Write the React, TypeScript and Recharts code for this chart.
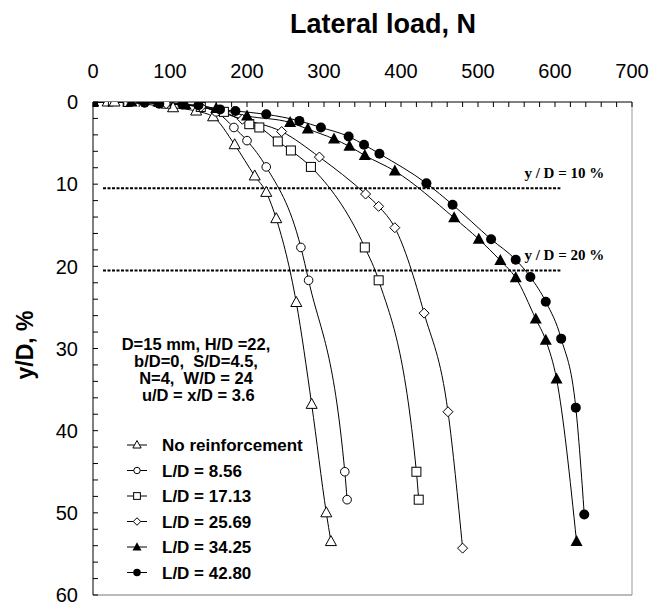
import React from 'react';
import { LineChart, Line, XAxis, YAxis, ReferenceLine } from 'recharts';

// lateral load (N) vs y/D (%)
const noReinfLoad = [0, 19, 28, 104, 134, 156, 184, 210, 225, 238, 264, 284, 303, 309];
const noReinfDepth = [0, 0, 0, 0.7, 1.1, 1.8, 5.2, 9.0, 11.0, 14.2, 24.4, 36.8, 50.0, 53.5];

const ld856Load = [0, 45, 95, 140, 160, 183, 200, 225, 270, 280, 327, 330];
const ld856Depth = [0, 0, 0.2, 0.6, 1.2, 3.1, 4.7, 7.9, 17.7, 21.7, 45.0, 48.4];

const ld1713Load = [0, 45, 95, 140, 170, 203, 216, 240, 257, 283, 353, 371, 420, 423];
const ld1713Depth = [0, 0, 0.2, 0.6, 1.2, 2.7, 3.1, 4.8, 5.9, 7.9, 17.7, 21.7, 45.0, 48.4];

const ld2569Load = [0, 50, 95, 140, 194, 245, 294, 354, 371, 392, 430, 461, 480];
const ld2569Depth = [0, 0, 0.2, 0.6, 2.1, 3.6, 6.7, 11.2, 12.7, 15.3, 25.7, 37.7, 54.3];

const ld3425Load = [0, 50, 85, 120, 160, 200, 256, 279, 313, 333, 353, 392, 469, 501, 529, 549, 575, 588, 602, 628];
const ld3425Depth = [0, 0, 0, 0.3, 0.8, 1.7, 2.5, 3.3, 4.5, 5.4, 6.5, 8.4, 14.1, 16.7, 19.3, 21.4, 26.4, 29.0, 33.7, 53.5];

const ld4280Load = [0, 67, 86, 116, 137, 165, 185, 225, 268, 296, 332, 352, 372, 433, 467, 517, 549, 568, 588, 608, 627, 638];
const ld4280Depth = [0, 0.1, 0.2, 0.3, 0.4, 0.9, 1.1, 1.5, 2.3, 3.1, 4.2, 5.2, 6.3, 9.9, 12.5, 16.7, 19.2, 21.3, 24.3, 28.8, 37.2, 50.2];

const seriesNames = ['No reinforcement', 'L/D = 8.56', 'L/D = 17.13', 'L/D = 25.69', 'L/D = 34.25', 'L/D = 42.80'];
const xTicks = Array.from({ length: 36 }, (_, i) => i * 20);
const yTicks = Array.from({ length: 31 }, (_, i) => i * 2);
const limitLevels = [10.5, 20.5];
const limitLabels = ['y / D = 10 %', 'y / D = 20 %'];
const noteLines = ['D=15 mm, H/D =22,', 'b/D=0,  S/D=4.5,', 'N=4,  W/D = 24', ' u/D = x/D = 3.6'];

const zip = (xs: number[], ys: number[]) => xs.map((x, i) => ({ x, y: ys[i] }));

const series = [
  zip(noReinfLoad, noReinfDepth),
  zip(ld856Load, ld856Depth),
  zip(ld1713Load, ld1713Depth),
  zip(ld2569Load, ld2569Depth),
  zip(ld3425Load, ld3425Depth),
  zip(ld4280Load, ld4280Depth),
];

const FONT = 'Arial, "Liberation Sans", sans-serif';

// marker shapes, s = scale
const marker = (kind: number, cx: number, cy: number, s: number, key?: any) => {
  switch (kind) {
    case 0:
      return <polygon key={key} points={`${cx},${cy - 6 * s} ${cx - 5.5 * s},${cy + 4 * s} ${cx + 5.5 * s},${cy + 4 * s}`} fill="#fff" stroke="#000" strokeWidth={1} />;
    case 1:
      return <circle key={key} cx={cx} cy={cy} r={4.3 * s} fill="#fff" stroke="#000" strokeWidth={1} />;
    case 2:
      return <rect key={key} x={cx - 4.5 * s} y={cy - 4.5 * s} width={9 * s} height={9 * s} fill="#fff" stroke="#000" strokeWidth={1} />;
    case 3:
      return <polygon key={key} points={`${cx},${cy - 5 * s} ${cx + 5 * s},${cy} ${cx},${cy + 5 * s} ${cx - 5 * s},${cy}`} fill="#fff" stroke="#000" strokeWidth={1} />;
    case 4:
      return <polygon key={key} points={`${cx},${cy - 6.5 * s} ${cx - 6 * s},${cy + 4.5 * s} ${cx + 6 * s},${cy + 4.5 * s}`} fill="#000" />;
    default:
      return <circle key={key} cx={cx} cy={cy} r={5 * s} fill="#000" />;
  }
};

const XTick = (props: any) => {
  const { x, y, payload } = props;
  return (
    <g>
      <line x1={x} y1={y} x2={x} y2={y + 5} stroke="#000" />
      {payload.value % 100 === 0 && (
        <text x={x} y={y - 24} textAnchor="middle" fontSize={20} fontFamily={FONT} fill="#000">
          {payload.value}
        </text>
      )}
    </g>
  );
};

const YTick = (props: any) => {
  const { x, y, payload } = props;
  return (
    <g>
      <line x1={x} y1={y} x2={x + 5} y2={y} stroke="#000" />
      {payload.value % 10 === 0 && (
        <text x={x - 15} y={y} dy="0.36em" textAnchor="end" fontSize={20} fontFamily={FONT} fill="#000">
          {payload.value}
        </text>
      )}
    </g>
  );
};

const limitLabel = (text: string) => (props: any) => {
  const vb = props.viewBox || {};
  return (
    <text x={vb.x + vb.width - 36} y={vb.y - 10} fontSize={15} fontWeight="bold" fontFamily='"Liberation Serif", "Times New Roman", serif' fill="#000">
      {text}
    </text>
  );
};

const App: React.FC = () => {
  return (
    <div style={{ position: 'absolute', left: 0, top: 0, width: 649, height: 605, background: '#fff' }}>
      <LineChart width={649} height={605} margin={{ top: 42, right: 17, bottom: 10, left: 33 }}>
        <XAxis
          type="number"
          dataKey="x"
          orientation="top"
          domain={[0, 700]}
          ticks={xTicks}
          interval={0}
          height={60}
          tickSize={0}
          tickMargin={0}
          tickLine={false}
          tick={<XTick />}
          axisLine={{ stroke: '#000' }}
          allowDataOverflow
        />
        <YAxis
          type="number"
          dataKey="y"
          reversed
          domain={[0, 60]}
          ticks={yTicks}
          interval={0}
          width={60}
          tickSize={0}
          tickMargin={0}
          tickLine={false}
          tick={<YTick />}
          axisLine={{ stroke: '#000' }}
          allowDataOverflow
        />
        <ReferenceLine x={700} stroke="#999" />
        <ReferenceLine y={60} stroke="#777" />
        {limitLevels.map((lv, i) => (
          <ReferenceLine
            key={i}
            segment={[{ x: 13, y: lv }, { x: 607, y: lv }]}
            stroke="#000"
            strokeWidth={2}
            strokeDasharray="3 1.5"
            label={limitLabel(limitLabels[i])}
          />
        ))}
        {series.map((d, i) => (
          <Line
            key={i}
            data={d}
            dataKey="y"
            name={seriesNames[i]}
            type="monotone"
            stroke="#000"
            strokeWidth={1}
            isAnimationActive={false}
            dot={(p: any) => marker(i, p.cx, p.cy, 1, `${i}-${p.index}`)}
            activeDot={false}
          />
        ))}
      </LineChart>
      <svg width={649} height={605} style={{ position: 'absolute', left: 0, top: 0, pointerEvents: 'none' }}>
        <text x={383} y={33} textAnchor="middle" fontSize={27} fontWeight="bold" fontFamily={FONT}>
          Lateral load, N
        </text>
        <text transform="translate(33,345) rotate(-90)" textAnchor="middle" fontSize={23} fontWeight="bold" fontFamily={FONT}>
          y/D, %
        </text>
        {noteLines.map((t, i) => (
          <text key={i} x={196} y={350 + i * 17} textAnchor="middle" fontSize={16.5} fontWeight="bold" fontFamily={FONT} style={{ whiteSpace: 'pre' }}>
            {t}
          </text>
        ))}
        {seriesNames.map((n, i) => {
          const cy = 445 + i * 25.5;
          return (
            <g key={n}>
              <line x1={127} y1={cy} x2={147} y2={cy} stroke="#000" />
              {marker(i, 137, cy, 0.75)}
              <text x={162} y={cy + 6} fontSize={17} fontWeight="bold" fontFamily={FONT}>
                {n}
              </text>
            </g>
          );
        })}
      </svg>
    </div>
  );
};

export default App;
